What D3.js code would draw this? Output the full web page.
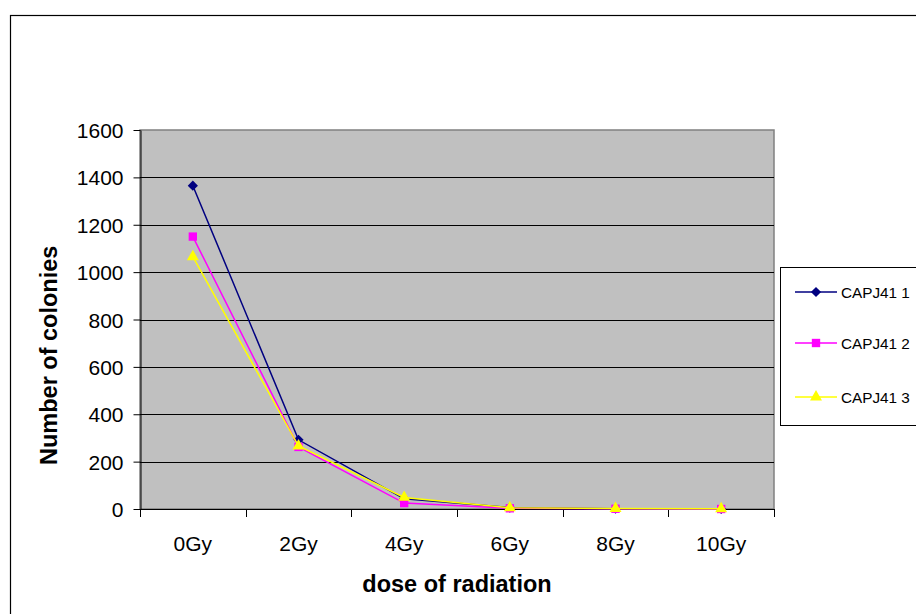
<!DOCTYPE html>
<html>
<head>
<meta charset="utf-8">
<script src="https://cdn.jsdelivr.net/npm/d3@7/dist/d3.min.js"></script>
<style>
  html, body { margin: 0; padding: 0; background: #fff; }
  svg { display: block; font-family: Arial, "Liberation Sans", sans-serif; }
</style>
</head>
<body>
<svg id="chart" width="916" height="614"></svg>
<script>
// Radiation dose categories and colony counts per replicate
const doses = ["0Gy", "2Gy", "4Gy", "6Gy", "8Gy", "10Gy"];
const capj41_1 = [1365, 292, 43, 6, 1, 0];
const capj41_2 = [1150, 262, 25, 3, 1, 0];
const capj41_3 = [1065, 266, 49, 5, 2, 1];
const seriesNames = ["CAPJ41 1", "CAPJ41 2", "CAPJ41 3"];
const seriesColors = ["#000080", "#FF00FF", "#FFFF00"];
const yTicks = [0, 200, 400, 600, 800, 1000, 1200, 1400, 1600];

const seriesValues = [capj41_1, capj41_2, capj41_3];

// Marker shapes: diamond (square turned 45°), square, triangle
const markerDefs = [
  { type: d3.symbolSquare, size: 52, rotate: 45 },
  { type: d3.symbolSquare, size: 70, rotate: 0 },
  { type: d3.symbolTriangle, size: 62, rotate: 0 }
];

const svg = d3.select("#chart");

// Outer chart frame
svg.append("rect")
  .attr("x", 10.5).attr("y", 15.5)
  .attr("width", 930).attr("height", 620)
  .attr("fill", "#fff").attr("stroke", "#000").attr("stroke-width", 1.2);

const plot = { left: 140, top: 130, right: 774, bottom: 509 };

const x = d3.scaleBand().domain(doses).range([plot.left, plot.right]).padding(0);
const y = d3.scaleLinear().domain([0, 1600]).range([plot.bottom, plot.top]);
const cx = d => x(d) + x.bandwidth() / 2;

// Plot area background
svg.append("rect")
  .attr("x", plot.left).attr("y", plot.top)
  .attr("width", plot.right - plot.left).attr("height", plot.bottom - plot.top)
  .attr("fill", "#C0C0C0").attr("stroke", "#808080").attr("stroke-width", 1.5);

// Horizontal gridlines
svg.append("g").selectAll("line")
  .data(yTicks.filter(v => v > 0 && v < 1600))
  .join("line")
  .attr("x1", plot.left).attr("x2", plot.right)
  .attr("y1", d => Math.round(y(d)) + 0.5).attr("y2", d => Math.round(y(d)) + 0.5)
  .attr("stroke", "#000").attr("stroke-width", 1);

// Y axis
const yAxis = svg.append("g")
  .attr("transform", `translate(${plot.left + 0.5},0)`)
  .call(d3.axisLeft(y).tickValues(yTicks).tickFormat(d3.format("d"))
    .tickSize(7).tickPadding(10).tickSizeOuter(0));
yAxis.select(".domain").attr("stroke", "#000");
yAxis.selectAll(".tick line").attr("stroke", "#000");
yAxis.selectAll(".tick text")
  .attr("font-size", 21).attr("fill", "#000")
  .attr("font-family", "Arial, 'Liberation Sans', sans-serif")
  .attr("dy", "0.36em");

// X axis line and tick marks at category boundaries
const xg = svg.append("g");
xg.append("line")
  .attr("x1", plot.left).attr("x2", plot.right)
  .attr("y1", plot.bottom + 0.5).attr("y2", plot.bottom + 0.5)
  .attr("stroke", "#000");
const boundaries = doses.map(d => x(d)).concat([x(doses[doses.length - 1]) + x.bandwidth()]);
xg.selectAll("line.tk")
  .data(boundaries)
  .join("line").attr("class", "tk")
  .attr("x1", d => Math.round(d) + 0.5).attr("x2", d => Math.round(d) + 0.5)
  .attr("y1", plot.bottom).attr("y2", plot.bottom + 8)
  .attr("stroke", "#000");
xg.selectAll("text")
  .data(doses)
  .join("text")
  .attr("x", d => cx(d)).attr("y", 551)
  .attr("text-anchor", "middle")
  .attr("font-size", 21).attr("fill", "#000")
  .text(d => d);

// Axis titles
svg.append("text")
  .attr("x", 457).attr("y", 592)
  .attr("text-anchor", "middle")
  .attr("font-size", 23.5).attr("font-weight", "bold")
  .text("dose of radiation");

svg.append("text")
  .attr("transform", "translate(57,465) rotate(-90)")
  .attr("text-anchor", "start")
  .attr("font-size", 23.5).attr("font-weight", "bold")
  .text("Number of colonies");

// Series lines and markers
const line = d3.line().x((v, i) => cx(doses[i])).y(v => y(v));
const markerPath = s => d3.symbol().type(markerDefs[s].type).size(markerDefs[s].size)();

seriesValues.forEach((vals, s) => {
  const g = svg.append("g");
  g.append("path")
    .datum(vals)
    .attr("d", line)
    .attr("fill", "none")
    .attr("stroke", seriesColors[s])
    .attr("stroke-width", 1.5);
  g.selectAll("path.m")
    .data(vals)
    .join("path").attr("class", "m")
    .attr("transform", (v, i) => `translate(${cx(doses[i])},${y(v)}) rotate(${markerDefs[s].rotate})`)
    .attr("d", markerPath(s))
    .attr("fill", seriesColors[s]);
});

// Legend
const legend = svg.append("g");
legend.append("rect")
  .attr("x", 780.5).attr("y", 267.5)
  .attr("width", 160).attr("height", 158)
  .attr("fill", "#fff").attr("stroke", "#000").attr("stroke-width", 1);

const legendY = [292, 343, 397];
seriesNames.forEach((name, s) => {
  const ly = legendY[s];
  legend.append("line")
    .attr("x1", 795).attr("x2", 837)
    .attr("y1", ly).attr("y2", ly)
    .attr("stroke", seriesColors[s]).attr("stroke-width", 1.5);
  legend.append("path")
    .attr("transform", `translate(816,${ly}) rotate(${markerDefs[s].rotate})`)
    .attr("d", markerPath(s))
    .attr("fill", seriesColors[s]);
  legend.append("text")
    .attr("x", 841).attr("y", ly + 5.5)
    .attr("font-size", 15.3).attr("fill", "#000")
    .text(name);
});
</script>
</body>
</html>
